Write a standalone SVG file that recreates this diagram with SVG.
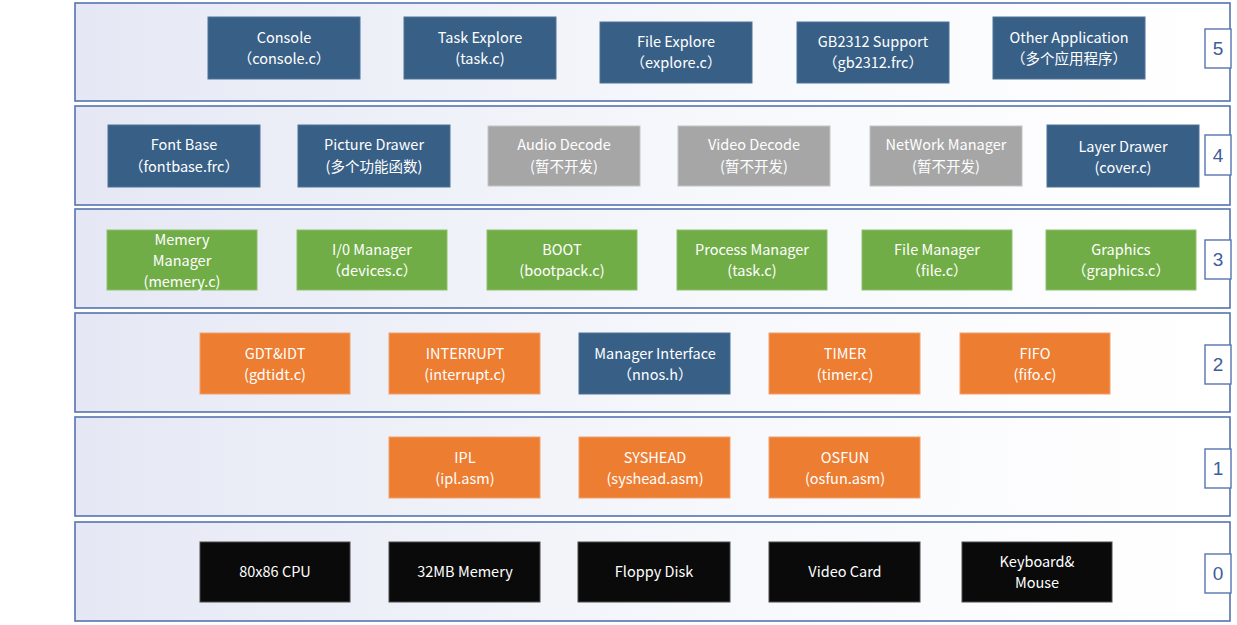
<svg xmlns="http://www.w3.org/2000/svg" width="1237" height="625" viewBox="0 0 1237 625">
<defs>
<linearGradient id="bandGrad" x1="0" y1="0" x2="1" y2="0">
<stop offset="0" stop-color="#e5e8f4"/>
<stop offset="0.55" stop-color="#f7f8fc"/>
<stop offset="1" stop-color="#ffffff"/>
</linearGradient>
</defs>
<style>
.band{fill:url(#bandGrad);stroke:#5674b0;stroke-width:1.6}
.num{fill:#ffffff;stroke:#5674b0;stroke-width:1.4}
.numt{font-family:"Liberation Sans","Noto Sans CJK SC",sans-serif;font-size:19px;fill:#3d5d9c;text-anchor:middle}
.n rect{stroke-width:1}
.blue{fill:#386087;stroke:#4e7396}
.grey{fill:#a6a6a6;stroke:#c4c4c4}
.green{fill:#71ad47;stroke:#8fbf6e}
.orange{fill:#ed7d31;stroke:#f2a06a}
.black{fill:#0a0a0a;stroke:#4a4a4a}
.t{font-family:"Noto Sans CJK SC","Noto Sans",sans-serif;font-size:14.5px;fill:#ffffff;text-anchor:middle}
</style>
<rect width="1237" height="625" fill="#ffffff"/>
<g id="layers">
<g id="layer5"><rect class="band" x="75" y="3" width="1155" height="98"/><rect class="num" x="1205" y="29" width="26" height="39"/><text class="numt" x="1218" y="55">5</text></g>
<g id="layer4"><rect class="band" x="75" y="106" width="1155" height="99"/><rect class="num" x="1205" y="135" width="26" height="40"/><text class="numt" x="1218" y="162">4</text></g>
<g id="layer3"><rect class="band" x="75" y="209" width="1155" height="99"/><rect class="num" x="1205" y="240" width="26" height="39"/><text class="numt" x="1218" y="266">3</text></g>
<g id="layer2"><rect class="band" x="75" y="313" width="1155" height="99"/><rect class="num" x="1205" y="345" width="26" height="39"/><text class="numt" x="1218" y="371">2</text></g>
<g id="layer1"><rect class="band" x="75" y="417" width="1155" height="99"/><rect class="num" x="1205" y="449" width="26" height="39"/><text class="numt" x="1218" y="475">1</text></g>
<g id="layer0"><rect class="band" x="75" y="522" width="1155" height="99"/><rect class="num" x="1205" y="554" width="26" height="39"/><text class="numt" x="1218" y="580">0</text></g>
</g>
<g id="connectors"/>
<g id="nodes">
<!-- layer 5 -->
<g id="console" class="n"><rect class="blue" x="208" y="17" width="152" height="62"/><text class="t" x="284" y="43">Console</text><text class="t" x="284" y="64">（console.c）</text></g>
<g id="taskexplore" class="n"><rect class="blue" x="404" y="17" width="152" height="62"/><text class="t" x="480" y="43">Task Explore</text><text class="t" x="480" y="64">(task.c)</text></g>
<g id="fileexplore" class="n"><rect class="blue" x="600" y="22" width="152" height="61"/><text class="t" x="676" y="47">File Explore</text><text class="t" x="676" y="68">（explore.c）</text></g>
<g id="gb2312" class="n"><rect class="blue" x="797" y="22" width="152" height="61"/><text class="t" x="873" y="47">GB2312 Support</text><text class="t" x="873" y="68">（gb2312.frc）</text></g>
<g id="otherapp" class="n"><rect class="blue" x="993" y="17" width="152" height="62"/><text class="t" x="1069" y="43">Other Application</text><text class="t" x="1069" y="64">（多个应用程序）</text></g>
<!-- layer 4 -->
<g id="fontbase" class="n"><rect class="blue" x="108" y="125" width="152" height="62"/><text class="t" x="184" y="150">Font Base</text><text class="t" x="184" y="172">（fontbase.frc）</text></g>
<g id="picturedrawer" class="n"><rect class="blue" x="298" y="125" width="152" height="62"/><text class="t" x="374" y="150">Picture Drawer</text><text class="t" x="374" y="172">(多个功能函数)</text></g>
<g id="audiodecode" class="n"><rect class="grey" x="488" y="126" width="152" height="60"/><text class="t" x="564" y="150">Audio Decode</text><text class="t" x="564" y="172">(暂不开发)</text></g>
<g id="videodecode" class="n"><rect class="grey" x="678" y="126" width="152" height="60"/><text class="t" x="754" y="150">Video Decode</text><text class="t" x="754" y="172">(暂不开发)</text></g>
<g id="network" class="n"><rect class="grey" x="870" y="126" width="152" height="60"/><text class="t" x="946" y="150">NetWork Manager</text><text class="t" x="946" y="172">(暂不开发)</text></g>
<g id="layerdrawer" class="n"><rect class="blue" x="1047" y="125" width="152" height="62"/><text class="t" x="1123" y="152">Layer  Drawer</text><text class="t" x="1123" y="173">(cover.c)</text></g>
<!-- layer 3 -->
<g id="memery" class="n"><rect class="green" x="107" y="230" width="150" height="60"/><text class="t" x="182" y="245">Memery</text><text class="t" x="182" y="266">Manager</text><text class="t" x="182" y="287">(memery.c)</text></g>
<g id="iomanager" class="n"><rect class="green" x="297" y="230" width="150" height="60"/><text class="t" x="372" y="255">I/0 Manager</text><text class="t" x="372" y="276">（devices.c）</text></g>
<g id="boot" class="n"><rect class="green" x="487" y="230" width="150" height="60"/><text class="t" x="562" y="255">BOOT</text><text class="t" x="562" y="276">(bootpack.c)</text></g>
<g id="process" class="n"><rect class="green" x="677" y="230" width="150" height="60"/><text class="t" x="752" y="255">Process Manager</text><text class="t" x="752" y="276">(task.c)</text></g>
<g id="filemanager" class="n"><rect class="green" x="862" y="230" width="150" height="60"/><text class="t" x="937" y="255">File  Manager</text><text class="t" x="937" y="276">（file.c）</text></g>
<g id="graphics" class="n"><rect class="green" x="1046" y="230" width="150" height="60"/><text class="t" x="1121" y="255">Graphics</text><text class="t" x="1121" y="276">（graphics.c）</text></g>
<!-- layer 2 -->
<g id="gdtidt" class="n"><rect class="orange" x="200" y="333" width="150" height="61"/><text class="t" x="275" y="359">GDT&amp;IDT</text><text class="t" x="275" y="380">(gdtidt.c)</text></g>
<g id="interrupt" class="n"><rect class="orange" x="389" y="333" width="151" height="61"/><text class="t" x="465" y="359">INTERRUPT</text><text class="t" x="465" y="380">(interrupt.c)</text></g>
<g id="managerif" class="n"><rect class="blue" x="579" y="333" width="151" height="61"/><text class="t" x="655" y="359">Manager Interface</text><text class="t" x="655" y="380">（nnos.h）</text></g>
<g id="timer" class="n"><rect class="orange" x="769" y="333" width="151" height="61"/><text class="t" x="845" y="359">TIMER</text><text class="t" x="845" y="380">(timer.c)</text></g>
<g id="fifo" class="n"><rect class="orange" x="960" y="333" width="150" height="61"/><text class="t" x="1035" y="359">FIFO</text><text class="t" x="1035" y="380">(fifo.c)</text></g>
<!-- layer 1 -->
<g id="ipl" class="n"><rect class="orange" x="389" y="437" width="151" height="61"/><text class="t" x="465" y="463">IPL</text><text class="t" x="465" y="484">(ipl.asm)</text></g>
<g id="syshead" class="n"><rect class="orange" x="579" y="437" width="151" height="61"/><text class="t" x="655" y="463">SYSHEAD</text><text class="t" x="655" y="484">(syshead.asm)</text></g>
<g id="osfun" class="n"><rect class="orange" x="769" y="437" width="151" height="61"/><text class="t" x="845" y="463">OSFUN</text><text class="t" x="845" y="484">(osfun.asm)</text></g>
<!-- layer 0 -->
<g id="cpu" class="n"><rect class="black" x="200" y="542" width="150" height="60"/><text class="t" x="275" y="577">80x86 CPU</text></g>
<g id="memory" class="n"><rect class="black" x="389" y="542" width="151" height="60"/><text class="t" x="465" y="577">32MB Memery</text></g>
<g id="floppy" class="n"><rect class="black" x="578" y="542" width="152" height="60"/><text class="t" x="654" y="577">Floppy Disk</text></g>
<g id="videocard" class="n"><rect class="black" x="769" y="542" width="151" height="60"/><text class="t" x="845" y="577">Video Card</text></g>
<g id="keyboard" class="n"><rect class="black" x="962" y="542" width="150" height="60"/><text class="t" x="1037" y="567">Keyboard&amp;</text><text class="t" x="1037" y="588">Mouse</text></g>
</g>
</svg>
